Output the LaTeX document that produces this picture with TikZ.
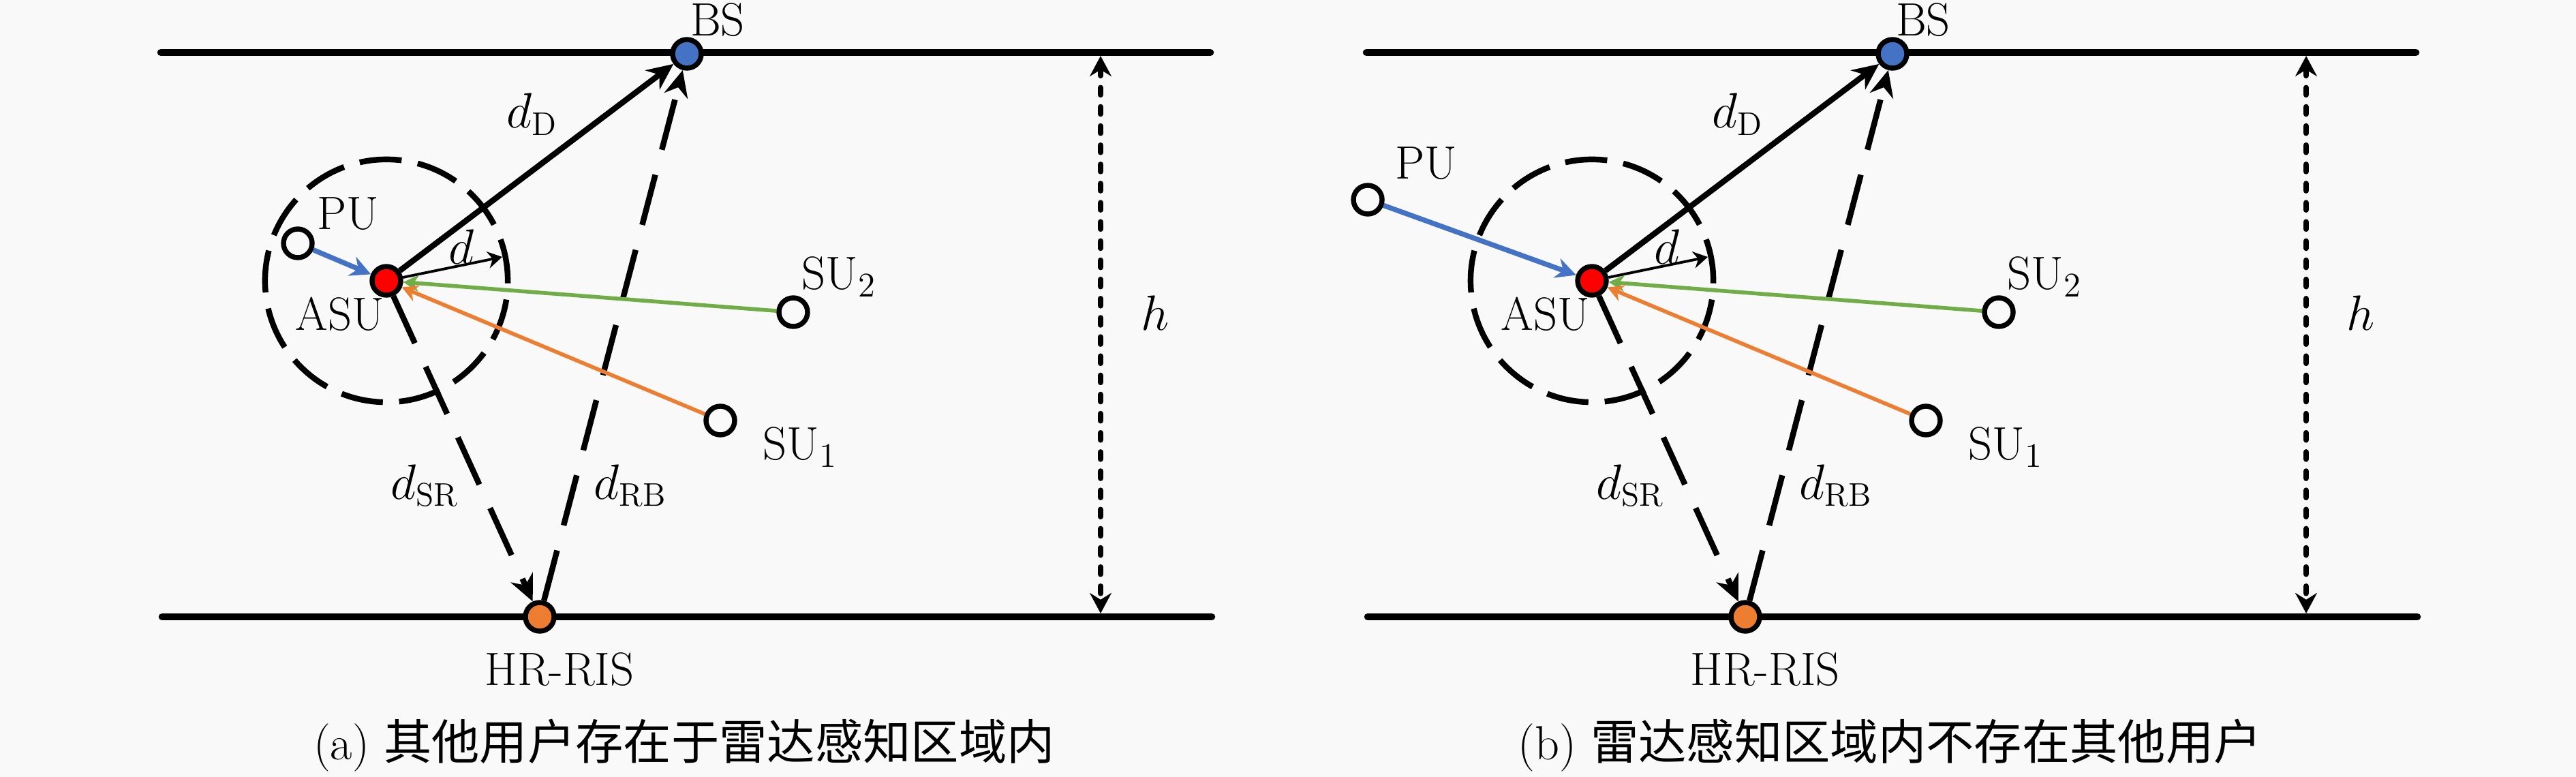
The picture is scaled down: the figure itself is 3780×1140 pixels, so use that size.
\documentclass[tikz,border=0pt]{standalone}
\usepackage{fontspec}
\newfontfamily\cjk{Noto Sans CJK SC}
\usetikzlibrary{arrows.meta}
\definecolor{bgc}{RGB}{249,249,249}
\definecolor{obl}{RGB}{68,114,196}
\definecolor{ogr}{RGB}{112,173,71}
\definecolor{oor}{RGB}{237,125,49}
\pgfdeclarelayer{bgl}
\pgfdeclarelayer{back}
\pgfsetlayers{bgl,back,main}

\newcommand\drawpanel[6]{%
  \node[usr, fill=obl] (BS#1) at (1008,79) {};
  \node[usr, fill=red] (ASU#1) at (567,412) {};
  \node[usr, fill=oor] (RIS#1) at (792,905) {};
  \node[usr] (PU#1) at (#2,#3) {};
  \node[usr] (SUtwo#1) at (1164,458) {};
  \node[usr] (SUone#1) at (1057,617) {};
  \coordinate (dend#1) at (737,377);
  \coordinate (htop#1) at (1615,82);
  \coordinate (hbot#1) at (1615,900);
  \coordinate (tl#1) at (236,77);
  \coordinate (tr#1) at (1776,77);
  \coordinate (bl#1) at (238,905);
  \coordinate (br#1) at (1778,905);
  \begin{pgfonlayer}{back}
    \draw[horizon] (tl#1) -- (tr#1);
    \draw[horizon] (bl#1) -- (br#1);
    \draw[ring] (ASU#1.center) circle[radius=1.78cm];
    \draw[dlink] (ASU#1) -- (BS#1);
    \draw[longdash] (ASU#1) -- (RIS#1);
    \draw[longdash] (RIS#1) -- (BS#1);
    \draw[darrow] (ASU#1) -- (dend#1);
    \draw[puarr] (PU#1) -- (ASU#1);
    \draw[suarr, color=ogr] (SUtwo#1) -- (ASU#1);
    \draw[suarr, color=oor] (SUone#1) -- (ASU#1);
    \draw[harr] (htop#1) -- (hbot#1);
  \end{pgfonlayer}
  \node[lbl] (lBS#1) at (1053,53) {BS};
  \node[lbl] (lRIS#1) at (821,1005) {HR-RIS};
  \node[lbl] (lPU#1) at (#4,#5) {PU};
  \node[lbl] (lASU#1) at (499,485) {ASU};
  \node[lbl] (ld#1) at (677,388) {$d$};
  \node[lbl] (lSUtwo#1) at (1231,425) {SU$_2$};
  \node[lbl] (lSUone#1) at (1174,675) {SU$_1$};
  \node[lbl] (ldD#1) at (781,188) {$d_{\mathrm{D}}$};
  \node[lbl] (ldSR#1) at (623,732) {$d_{\mathrm{SR}}$};
  \node[lbl] (ldRB#1) at (925,732) {$d_{\mathrm{RB}}$};
  \node[lbl] (lh#1) at (1695,485) {$h$};
  \node[captext] (cap#1) at (1004,1114) {#6};
}

\begin{document}
\begin{tikzpicture}[x=0.01cm,y=-0.01cm,
  lbl/.style={inner sep=0pt, font=\fontsize{19.5}{23}\selectfont, anchor=base},
  captext/.style={inner sep=0pt, font=\fontsize{20}{24}\selectfont, anchor=base},
  usr/.style={circle, draw, line width=2.1pt, minimum size=0.42cm, inner sep=0pt},
  horizon/.style={line width=3pt, line cap=round},
  ring/.style={line width=2.4pt, dash pattern=on 17.6pt off 6.8pt},
  dlink/.style={line width=2.4pt, -{Stealth[length=11pt,width=10pt]}},
  longdash/.style={line width=2.4pt, dash pattern=on 21.6pt off 10.8pt, -{Stealth[length=11pt,width=10pt]}},
  darrow/.style={line width=1.1pt, -{Stealth[length=6pt,width=7pt]}},
  puarr/.style={line width=2.1pt, color=obl, -{Stealth[length=8.5pt,width=8.5pt]}},
  suarr/.style={line width=1.6pt, -{Stealth[length=6.5pt,width=7pt]}},
  harr/.style={line width=2.3pt, line cap=round, dash pattern=on 3pt off 5pt, {Stealth[length=8.5pt,width=9pt]}-{Stealth[length=8.5pt,width=9pt]}}
]
\begin{pgfonlayer}{bgl}
\fill[bgc] (0,0) rectangle (3780,1140);
\end{pgfonlayer}
\useasboundingbox (0,0) rectangle (3780,1140);
\drawpanel{a}{437}{357}{511}{337}{(a) {\cjk 其他用户存在于雷达感知区域内}}
\begin{scope}[xshift=17.68cm]
\drawpanel{b}{238}{293}{324}{263}{(b) {\cjk 雷达感知区域内不存在其他用户}}
\end{scope}
\end{tikzpicture}
\end{document}
